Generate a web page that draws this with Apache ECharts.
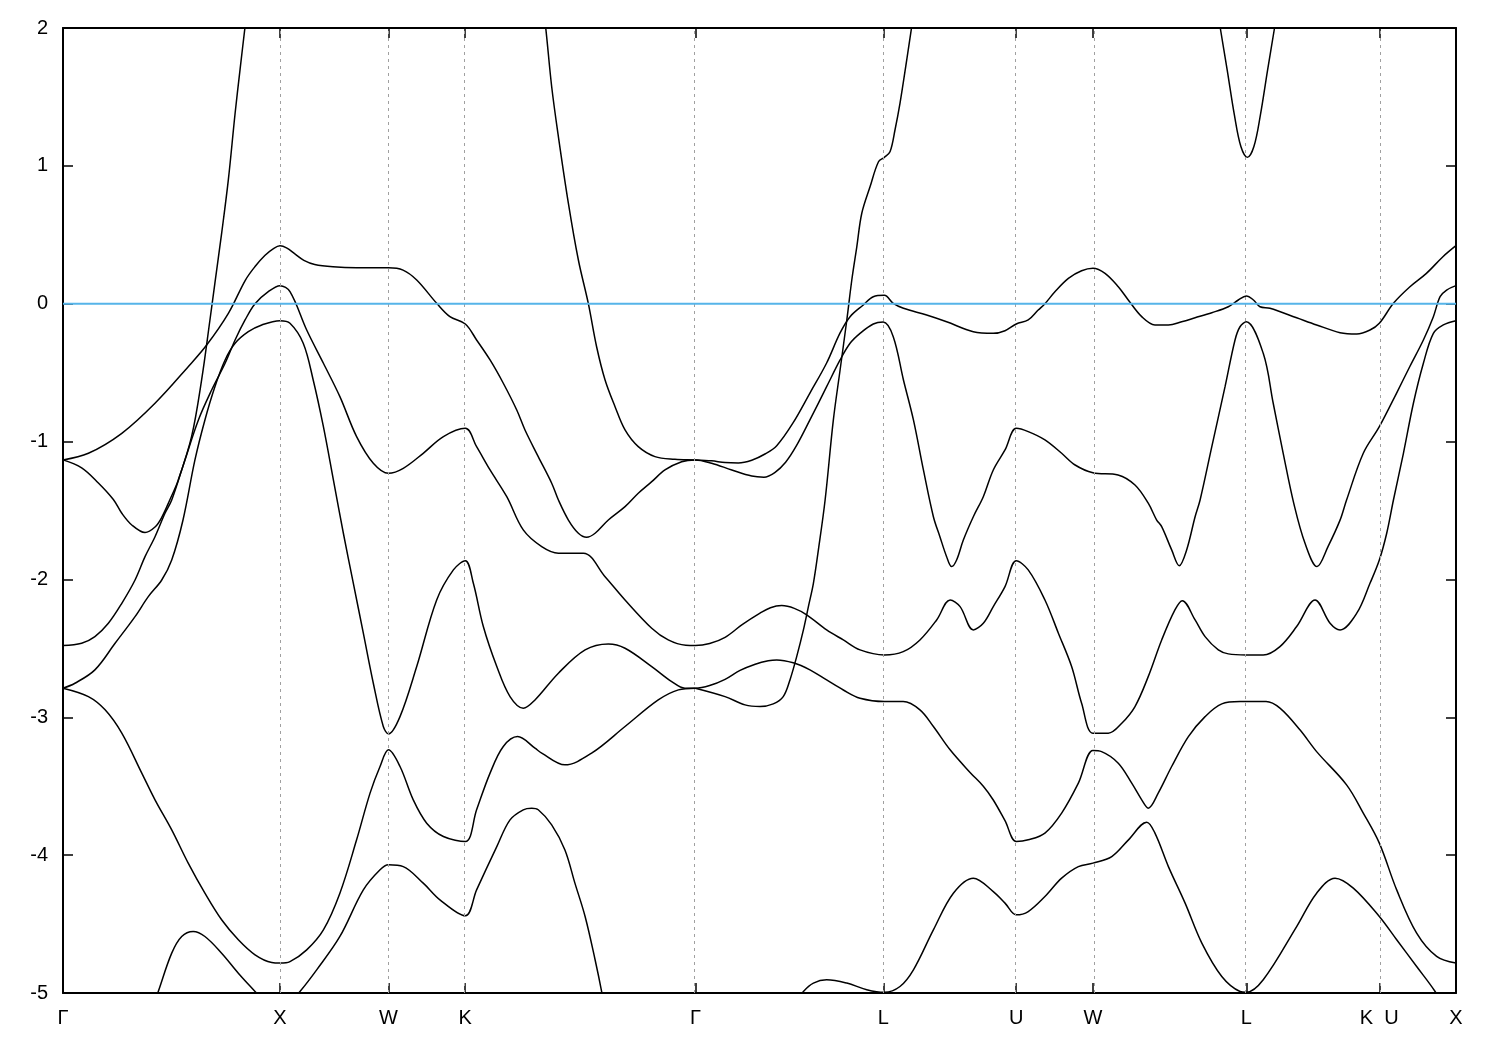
<!DOCTYPE html>
<html>
<head>
<meta charset="utf-8">
<script src="https://cdn.jsdelivr.net/npm/echarts@6/dist/echarts.min.js"></script>
<style>html,body{margin:0;padding:0;background:#fff}#c{width:1500px;height:1050px}</style>
</head>
<body>
<div id="c"></div>
<script>
// High-symmetry points (path distance) and their labels
const kPoints = [0, 1, 1.5, 1.8536, 2.9142, 3.7802, 4.3926, 4.7462, 5.4533, 6.0657, 6.4193];
const kLabels = ['Γ', 'X', 'W', 'K', 'Γ', 'L', 'U', 'W', 'L', 'K  U', 'X'];
const yMin = -5, yMax = 2, yStep = 1;
const fermiLevel = 0;

// Bands: [k, E] pairs
const bandA = [[0,-1.133],[0.086,-1.19],[0.163,-1.30],[0.232,-1.42],[0.271,-1.52],[0.317,-1.605],[0.378,-1.66],[0.424,-1.62],[0.455,-1.55],[0.493,-1.42],[0.531,-1.28],[0.593,-0.96],[0.639,-0.55],[0.677,-0.12],[0.700,0.15],[0.731,0.51],[0.762,0.90],[0.793,1.38],[0.816,1.70],[0.839,2.01],[0.85,2.15]];

const bandB = [[0,-1.133],[0.117,-1.085],[0.271,-0.94],[0.424,-0.722],[0.577,-0.457],[0.662,-0.30],[0.762,-0.07],[0.840,0.17],[0.885,0.27],[0.93,0.35],[0.97,0.40],[1.0,0.42],
[1.03,0.405],[1.07,0.36],[1.11,0.315],[1.16,0.285],[1.244,0.268],[1.353,0.261],[1.5,0.261],[1.567,0.244],[1.630,0.172],[1.722,0.003],[1.783,-0.094],[1.854,-0.147],
[1.906,-0.263],[1.968,-0.408],[2.029,-0.577],[2.091,-0.771],[2.129,-0.916],[2.190,-1.109],[2.252,-1.302],[2.283,-1.424],[2.329,-1.569],[2.375,-1.665],[2.413,-1.694],[2.452,-1.665],[2.513,-1.569],[2.590,-1.472],[2.651,-1.375],[2.713,-1.291],[2.774,-1.206],[2.851,-1.146],[2.914,-1.133],
[2.989,-1.157],[3.082,-1.206],[3.174,-1.250],[3.230,-1.258],[3.280,-1.225],[3.330,-1.150],[3.380,-1.030],[3.442,-0.843],[3.519,-0.602],[3.581,-0.408],[3.627,-0.287],[3.673,-0.215],[3.734,-0.147],[3.780,-0.133],
[3.826,-0.239],[3.873,-0.553],[3.919,-0.843],[3.965,-1.206],[4.011,-1.545],[4.041,-1.690],[4.072,-1.835],[4.095,-1.907],[4.118,-1.859],[4.149,-1.714],[4.195,-1.545],[4.241,-1.400],[4.287,-1.206],[4.341,-1.061],[4.393,-0.904],
[4.448,-0.928],[4.525,-0.988],[4.602,-1.085],[4.664,-1.170],[4.746,-1.226],[4.862,-1.242],[4.940,-1.315],[5.001,-1.447],[5.040,-1.569],[5.063,-1.617],[5.109,-1.786],[5.144,-1.900],[5.178,-1.786],[5.217,-1.545],[5.240,-1.424],[5.294,-1.037],[5.355,-0.602],[5.401,-0.263],[5.424,-0.167],[5.453,-0.131],
[5.531,-0.360],[5.577,-0.722],[5.623,-1.085],[5.672,-1.45],[5.724,-1.74],[5.779,-1.907],[5.830,-1.76],[5.885,-1.57],[5.915,-1.424],[5.992,-1.085],[6.066,-0.892],[6.145,-0.650],[6.206,-0.457],[6.269,-0.263],[6.315,-0.094],[6.346,0.051],[6.376,0.099],[6.419,0.131]];

const bandC = [[0,-2.48],[0.086,-2.463],[0.147,-2.415],[0.209,-2.318],[0.271,-2.173],[0.332,-2.004],[0.378,-1.835],[0.424,-1.69],[0.470,-1.52],[0.501,-1.424],[0.562,-1.133],[0.624,-0.843],[0.685,-0.626],[0.747,-0.432],[0.793,-0.263],[0.839,-0.118],[0.885,0],[0.946,0.087],[1.0,0.131],
[1.046,0.087],[1.123,-0.191],[1.200,-0.432],[1.276,-0.674],[1.353,-0.964],[1.430,-1.157],[1.5,-1.230],[1.568,-1.194],[1.660,-1.085],[1.753,-0.964],[1.854,-0.904],[1.906,-1.037],[1.968,-1.206],[2.045,-1.40],[2.121,-1.641],[2.206,-1.762],[2.283,-1.810],[2.398,-1.810],[2.498,-1.980],[2.590,-2.149],[2.713,-2.354],[2.789,-2.439],[2.870,-2.478],[2.914,-2.48],
[2.980,-2.465],[3.051,-2.42],[3.128,-2.33],[3.212,-2.245],[3.260,-2.205],[3.312,-2.19],[3.370,-2.21],[3.427,-2.257],[3.519,-2.366],[3.596,-2.439],[3.673,-2.511],[3.785,-2.548],[3.872,-2.524],[3.949,-2.439],[4.026,-2.294],[4.088,-2.149],[4.134,-2.197],[4.195,-2.366],[4.241,-2.318],[4.287,-2.197],[4.341,-2.052],[4.393,-1.864],[4.448,-1.931],[4.525,-2.149],[4.587,-2.390],[4.648,-2.632],[4.694,-2.898],[4.746,-3.115],[4.817,-3.115],[4.879,-3.043],[4.940,-2.922],[5.001,-2.705],[5.063,-2.439],[5.124,-2.221],[5.158,-2.154],[5.217,-2.294],[5.263,-2.415],[5.324,-2.511],[5.370,-2.540],[5.453,-2.548],[5.531,-2.548],[5.608,-2.487],[5.685,-2.342],[5.770,-2.149],[5.839,-2.318],[5.885,-2.366],[5.962,-2.245],[6.023,-2.028],[6.066,-1.859],[6.100,-1.665],[6.131,-1.424],[6.177,-1.085],[6.223,-0.722],[6.269,-0.432],[6.315,-0.215],[6.361,-0.154],[6.419,-0.123]];

const bandD = [[0,-2.789],[0.055,-2.753],[0.147,-2.656],[0.240,-2.463],[0.332,-2.270],[0.393,-2.125],[0.455,-2.004],[0.501,-1.859],[0.553,-1.569],[0.608,-1.133],[0.654,-0.843],[0.700,-0.602],[0.747,-0.408],[0.793,-0.287],[0.854,-0.203],[0.916,-0.154],[1.0,-0.123],
[1.046,-0.142],[1.107,-0.287],[1.153,-0.553],[1.200,-0.892],[1.246,-1.278],[1.292,-1.665],[1.338,-2.028],[1.384,-2.390],[1.430,-2.753],[1.476,-3.067],[1.5,-3.12],
[1.553,-2.995],[1.630,-2.632],[1.722,-2.149],[1.799,-1.931],[1.854,-1.864],
[1.891,-2.028],[1.937,-2.342],[1.999,-2.632],[2.060,-2.850],[2.121,-2.934],[2.175,-2.874],[2.283,-2.680],[2.406,-2.511],[2.513,-2.468],[2.590,-2.499],[2.713,-2.632],[2.805,-2.741],[2.866,-2.789],[2.914,-2.789],
[2.980,-2.77],[3.051,-2.725],[3.120,-2.66],[3.190,-2.615],[3.250,-2.59],[3.289,-2.584],[3.365,-2.605],[3.442,-2.656],[3.519,-2.729],[3.596,-2.802],[3.673,-2.862],[3.785,-2.886],[3.872,-2.886],[3.949,-2.946],[4.011,-3.067],[4.088,-3.236],[4.180,-3.400],[4.241,-3.500],[4.287,-3.600],[4.341,-3.750],[4.393,-3.901],[4.448,-3.889],[4.525,-3.840],[4.602,-3.695],[4.679,-3.478],[4.746,-3.241],[4.786,-3.249],[4.863,-3.333],[4.925,-3.478],[4.971,-3.599],[5.001,-3.659],[5.047,-3.550],[5.109,-3.357],[5.186,-3.140],[5.263,-2.995],[5.340,-2.903],[5.424,-2.886],[5.453,-2.886],[5.544,-2.886],[5.608,-2.934],[5.700,-3.091],[5.777,-3.249],[5.915,-3.490],[5.992,-3.695],[6.066,-3.913],[6.146,-4.252],[6.238,-4.566],[6.330,-4.735],[6.419,-4.783]];

const bandE = [[0,-2.789],[0.117,-2.850],[0.194,-2.946],[0.271,-3.115],[0.363,-3.405],[0.424,-3.599],[0.501,-3.817],[0.577,-4.058],[0.654,-4.276],[0.731,-4.469],[0.808,-4.614],[0.885,-4.723],[0.962,-4.779],[1.0,-4.783],
[1.046,-4.772],[1.123,-4.687],[1.200,-4.542],[1.276,-4.276],[1.353,-3.889],[1.415,-3.550],[1.461,-3.357],[1.5,-3.236],
[1.553,-3.357],[1.614,-3.599],[1.676,-3.768],[1.753,-3.865],[1.854,-3.901],
[1.906,-3.671],[1.968,-3.405],[2.029,-3.212],[2.095,-3.140],[2.175,-3.224],[2.206,-3.260],[2.313,-3.345],[2.436,-3.260],[2.590,-3.067],[2.743,-2.874],[2.836,-2.801],[2.914,-2.789]];

const bandF = [[2.914,-2.789],[3.051,-2.850],[3.143,-2.910],[3.212,-2.922],[3.273,-2.903],[3.319,-2.850],[3.350,-2.729],[3.381,-2.560],[3.412,-2.366],[3.435,-2.197],[3.458,-2.028],[3.481,-1.786],[3.512,-1.424],[3.550,-0.843],[3.581,-0.481],[3.612,-0.118],[3.635,0.172],[3.658,0.413],[3.681,0.656],[3.719,0.848],[3.758,1.030],[3.785,1.062],[3.811,1.102],[3.834,1.260],[3.857,1.453],[3.888,1.767],[3.911,2.009],[3.92,2.1]];

const bandG = [[2.215,2.1],[2.224,2.009],[2.252,1.574],[2.283,1.211],[2.329,0.728],[2.375,0.317],[2.421,0],[2.459,-0.312],[2.498,-0.553],[2.544,-0.747],[2.590,-0.916],[2.651,-1.037],[2.728,-1.109],[2.820,-1.128],[2.914,-1.133],
[2.989,-1.140],[3.051,-1.152],[3.112,-1.155],[3.174,-1.135],[3.235,-1.090],[3.289,-1.030],[3.364,-0.865],[3.442,-0.648],[3.519,-0.430],[3.581,-0.212],[3.627,-0.094],[3.688,-0.009],[3.734,0.051],[3.785,0.061],[3.826,0.003],[3.873,-0.033],[3.980,-0.082],[4.072,-0.131],[4.195,-0.203],[4.287,-0.215],[4.341,-0.196],[4.393,-0.147],[4.448,-0.118],[4.494,-0.046],[4.525,0],[4.571,0.087],[4.633,0.184],[4.694,0.239],[4.746,0.257],[4.802,0.220],[4.863,0.123],[4.909,0.027],[4.971,-0.094],[5.032,-0.154],[5.094,-0.154],[5.155,-0.131],[5.217,-0.102],[5.294,-0.065],[5.370,-0.022],[5.416,0.027],[5.453,0.056],[5.486,0.027],[5.516,-0.022],[5.562,-0.033],[5.685,-0.102],[5.777,-0.154],[5.885,-0.210],[5.962,-0.220],[6.023,-0.191],[6.066,-0.142],[6.131,0.003],[6.207,0.123],[6.283,0.220],[6.359,0.341],[6.419,0.421]];

const bandH = [[0.41,-5.12],[0.439,-4.989],[0.501,-4.711],[0.547,-4.590],[0.600,-4.554],[0.654,-4.590],[0.731,-4.711],[0.808,-4.856],[0.885,-4.989],[0.95,-5.1]];

const bandI = [[1.0,-5.15],[1.092,-4.989],[1.169,-4.832],[1.276,-4.590],[1.384,-4.252],[1.461,-4.106],[1.5,-4.070],[1.568,-4.083],[1.660,-4.203],[1.737,-4.324],[1.854,-4.44],[1.906,-4.252],[1.999,-3.938],[2.060,-3.744],[2.121,-3.671],[2.160,-3.66],[2.190,-3.671],[2.252,-3.780],[2.313,-3.962],[2.359,-4.203],[2.406,-4.445],[2.452,-4.759],[2.482,-4.989],[2.495,-5.12]];

const bandJ = [[3.35,-5.12],[3.412,-4.989],[3.458,-4.928],[3.519,-4.904],[3.612,-4.928],[3.704,-4.976],[3.785,-4.995],[3.857,-4.953],[3.919,-4.832],[4.011,-4.542],[4.103,-4.276],[4.195,-4.167],[4.287,-4.264],[4.341,-4.348],[4.393,-4.433],[4.448,-4.409],[4.525,-4.300],[4.602,-4.167],[4.679,-4.083],[4.746,-4.058],[4.833,-4.010],[4.910,-3.889],[4.994,-3.761],[5.032,-3.840],[5.094,-4.083],[5.171,-4.348],[5.248,-4.638],[5.340,-4.880],[5.424,-4.989],[5.453,-4.995],[5.531,-4.904],[5.685,-4.518],[5.777,-4.276],[5.862,-4.167],[5.946,-4.239],[6.066,-4.445],[6.146,-4.614],[6.238,-4.808],[6.323,-4.989],[6.369,-5.12]];

const bandK = [[5.327,2.06],[5.333,2.0],[5.365,1.695],[5.398,1.37],[5.428,1.14],[5.458,1.062],[5.488,1.14],[5.518,1.37],[5.551,1.695],[5.583,2.0],[5.589,2.06]];

const bands = [bandA, bandB, bandC, bandD, bandE, bandF, bandG, bandH, bandI, bandJ, bandK];

const chart = echarts.init(document.getElementById('c'), null, {renderer: 'canvas'});
const font = 'Liberation Sans, Arial, sans-serif';
const labelFor = v => {
  let best = 0;
  for (let i = 1; i < kPoints.length; i++) if (Math.abs(kPoints[i] - v) < Math.abs(kPoints[best] - v)) best = i;
  return kLabels[best];
};
const kMax = kPoints[kPoints.length - 1];
const axisLine = {show: true, onZero: false, lineStyle: {color: '#000', width: 2}};

const series = bands.map(b => ({
  type: 'line', data: b, xAxisIndex: 0, yAxisIndex: 0,
  symbol: 'none', showSymbol: false, smooth: 0.35,
  lineStyle: {color: '#000', width: 1.5}, z: 3, silent: true, animation: false, clip: true
}));
series.push({
  type: 'line', data: [], xAxisIndex: 0, yAxisIndex: 0, symbol: 'none', z: 1, silent: true, animation: false,
  markLine: {
    silent: true, animation: false, symbol: ['none', 'none'], label: {show: false},
    lineStyle: {color: '#a0a0a0', width: 1, type: [3, 4]},
    data: kPoints.slice(1, -1).map(k => ({xAxis: k}))
  }
});
series.push({
  type: 'line', data: [[0, fermiLevel], [kMax, fermiLevel]], xAxisIndex: 0, yAxisIndex: 0,
  symbol: 'none', lineStyle: {color: '#56b4e9', width: 2}, z: 5, silent: true, animation: false
});

chart.setOption({
  backgroundColor: '#fff',
  animation: false,
  grid: {left: 63, top: 28, width: 1393, height: 965, containLabel: false},
  xAxis: [
    {type: 'value', position: 'bottom', min: 0, max: kMax, axisLine: axisLine,
     splitLine: {show: false},
     axisTick: {show: true, inside: true, length: 10, customValues: kPoints, lineStyle: {color: '#000', width: 1.5}},
     axisLabel: {show: true, customValues: kPoints, formatter: labelFor, color: '#000', fontFamily: font, fontSize: 20, margin: 15}},
    {type: 'value', position: 'top', min: 0, max: kMax, axisLine: axisLine,
     splitLine: {show: false},
     axisTick: {show: true, inside: true, length: 10, customValues: kPoints, lineStyle: {color: '#000', width: 1.5}},
     axisLabel: {show: false}}
  ],
  yAxis: [
    {type: 'value', position: 'left', min: yMin, max: yMax, interval: yStep, axisLine: axisLine,
     splitLine: {show: false},
     axisTick: {show: true, inside: true, length: 10, lineStyle: {color: '#000', width: 1.5}},
     axisLabel: {color: '#000', fontFamily: font, fontSize: 20, margin: 15}},
    {type: 'value', position: 'right', min: yMin, max: yMax, interval: yStep, axisLine: axisLine,
     splitLine: {show: false},
     axisTick: {show: true, inside: true, length: 10, lineStyle: {color: '#000', width: 1.5}},
     axisLabel: {show: false}}
  ],
  series: series
});
</script>
</body>
</html>
